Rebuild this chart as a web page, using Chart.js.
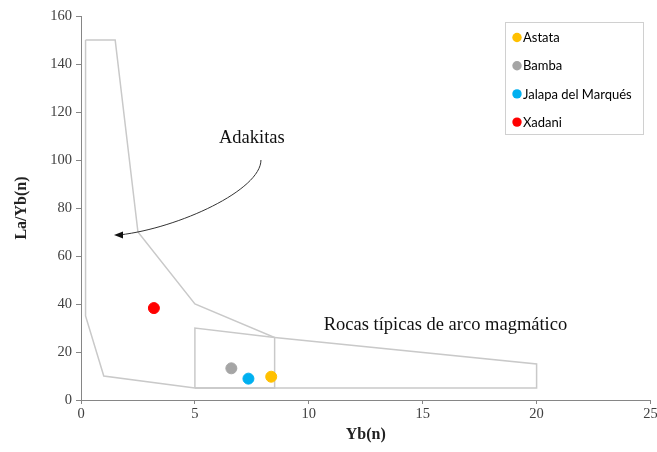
<!DOCTYPE html>
<html>
<head>
<meta charset="utf-8">
<script src="https://cdn.jsdelivr.net/npm/chart.js@4.4.0/dist/chart.umd.min.js"></script>
<style>
    body { margin: 0; background: #fff; }
    #wrap { width: 657px; height: 452px; }
</style>
</head>
<body>
<div id="wrap"><canvas id="chart" width="657" height="452"></canvas></div>
<script>
// sample groups: Yb(n) vs La/Yb(n)
const groups = ['Astata', 'Bamba', 'Jalapa del Marqués', 'Xadani'];
const groupColors = ['#FFC000', '#A5A5A5', '#00B0F0', '#FF0000'];
const ybValues = [8.35, 6.6, 7.35, 3.2];
const laYbValues = [9.7, 13.2, 8.9, 38.3];

// field outlines
const adakiteX = [0.2, 1.5, 2.5, 5, 8.5, 8.5, 5, 1, 0.2, 0.2];
const adakiteY = [150, 150, 70, 40, 26, 5, 5, 10, 35, 150];
const arcX = [5, 5, 8.5, 20, 20, 5];
const arcY = [5, 30, 26, 15, 5, 5];

const xTicks = [0, 5, 10, 15, 20, 25];
const yTicks = [0, 20, 40, 60, 80, 100, 120, 140, 160];

const toPoints = (xs, ys) => xs.map((x, i) => ({ x: x, y: ys[i] }));

const fieldLine = (xs, ys) => ({
    type: 'line',
    data: toPoints(xs, ys),
    borderColor: '#C9C9C9',
    borderWidth: 1.5,
    pointRadius: 0,
    fill: false,
    showLine: true,
    order: 2,
    isField: true
});

const datasets = [fieldLine(adakiteX, adakiteY), fieldLine(arcX, arcY)];
groups.forEach((g, i) => {
    datasets.push({
        type: 'scatter',
        label: g,
        data: [{ x: ybValues[i], y: laYbValues[i] }],
        backgroundColor: groupColors[i],
        borderColor: groupColors[i],
        pointRadius: 5.5,
        order: 1
    });
});

// text labels and the curved arrow, in data units
const notes = [
    { text: 'Adakitas', x: 7.5, y: 109 },
    { text: 'Rocas típicas de arco magmático', x: 16.0, y: 31.3 }
];
const arrowPath = [[7.9, 100], [7.9, 87.5], [4.3, 71.7], [1.45, 68.8]];

const notesPlugin = {
    id: 'notes',
    afterDatasetsDraw(chart) {
        const ctx = chart.ctx;
        const xs = chart.scales.x, ys = chart.scales.y;
        ctx.save();
        ctx.fillStyle = '#111';
        ctx.font = '18.5px "Liberation Serif", serif';
        ctx.textAlign = 'center';
        ctx.textBaseline = 'middle';
        notes.forEach(n => ctx.fillText(n.text, xs.getPixelForValue(n.x), ys.getPixelForValue(n.y)));

        const p = arrowPath.map(a => [xs.getPixelForValue(a[0]), ys.getPixelForValue(a[1])]);
        ctx.strokeStyle = '#333';
        ctx.lineWidth = 1;
        ctx.beginPath();
        ctx.moveTo(p[0][0], p[0][1]);
        ctx.bezierCurveTo(p[1][0], p[1][1], p[2][0], p[2][1], p[3][0] + 6, p[3][1]);
        ctx.stroke();
        // arrow head
        const tip = p[3];
        ctx.fillStyle = '#111';
        ctx.beginPath();
        ctx.moveTo(tip[0], tip[1]);
        ctx.lineTo(tip[0] + 9, tip[1] - 3.5);
        ctx.lineTo(tip[0] + 9, tip[1] + 3.5);
        ctx.closePath();
        ctx.fill();
        ctx.restore();
    }
};

// legend box inside the plot
const legendPlugin = {
    id: 'boxLegend',
    afterDraw(chart) {
        const ctx = chart.ctx;
        const left = 505, top = 22, w = 138, h = 112;
        ctx.save();
        ctx.strokeStyle = '#D0D0D0';
        ctx.lineWidth = 1;
        ctx.fillStyle = '#fff';
        ctx.fillRect(left, top, w, h);
        ctx.strokeRect(left + 0.5, top + 0.5, w, h);
        ctx.font = '13px Lato, "Open Sans", sans-serif';
        ctx.textBaseline = 'middle';
        const items = chart.data.datasets.filter(d => !d.isField);
        items.forEach((d, i) => {
            const y = top + 15.5 + i * 28.2;
            ctx.fillStyle = d.backgroundColor;
            ctx.beginPath();
            ctx.arc(left + 12, y, 4.7, 0, Math.PI * 2);
            ctx.fill();
            ctx.fillStyle = '#000';
            ctx.fillText(d.label, left + 18, y + 0.5);
        });
        ctx.restore();
    }
};

const tickFont = { family: '"Liberation Serif", serif', size: 14.5 };
const titleFont = { family: '"Liberation Serif", serif', size: 16, weight: 'bold' };

new Chart(document.getElementById('chart'), {
    data: { datasets: datasets },
    options: {
        responsive: false,
        animation: false,
        layout: { padding: { left: 12, right: 2, top: 16, bottom: 0 } },
        plugins: { legend: { display: false }, tooltip: { enabled: false } },
        scales: {
            x: {
                type: 'linear',
                min: 0,
                max: 25,
                afterBuildTicks: s => { s.ticks = xTicks.map(v => ({ value: v })); },
                afterFit: s => { s.height = 52; s.paddingLeft = 0; s.paddingRight = 0; },
                border: { color: '#868686', width: 1 },
                grid: { drawOnChartArea: false, tickLength: 4, color: '#868686' },
                ticks: { color: '#404040', font: tickFont, padding: 1, maxRotation: 0 },
                title: { display: true, text: 'Yb(n)', color: '#222', font: titleFont, padding: { top: 2, bottom: 8 } }
            },
            y: {
                type: 'linear',
                min: 0,
                max: 160,
                afterBuildTicks: s => { s.ticks = yTicks.map(v => ({ value: v })); },
                afterFit: s => { s.width = 69; s.paddingTop = 0; s.paddingBottom = 0; },
                border: { color: '#868686', width: 1 },
                grid: { drawOnChartArea: false, tickLength: 5, color: '#868686' },
                ticks: { color: '#404040', font: tickFont, padding: 4 },
                title: { display: true, text: 'La/Yb(n)', color: '#222', font: titleFont, padding: { top: 0, bottom: 8 } }
            }
        }
    },
    plugins: [notesPlugin, legendPlugin]
});
</script>
</body>
</html>
